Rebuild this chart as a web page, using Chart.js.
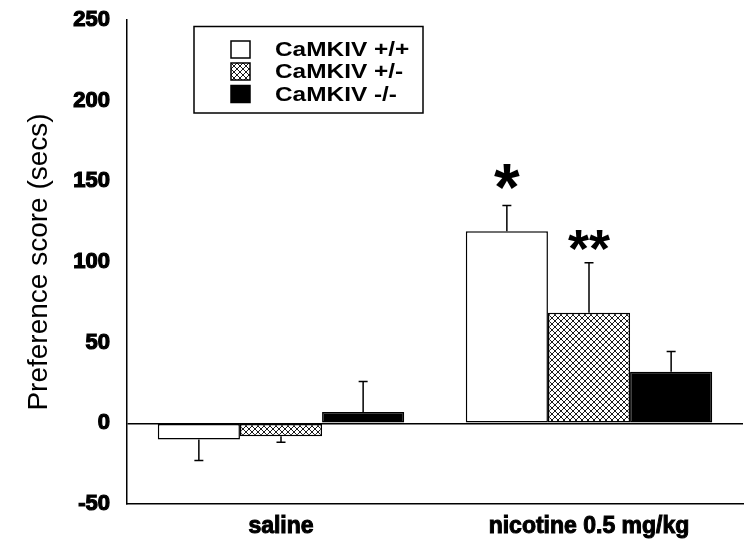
<!DOCTYPE html>
<html>
<head>
<meta charset="utf-8">
<script src="https://cdn.jsdelivr.net/npm/chart.js@4.4.1/dist/chart.umd.min.js"></script>
<style>
  html, body { margin: 0; padding: 0; background: #fff; }
  #wrap { width: 752px; height: 545px; }
</style>
</head>
<body>
<div id="wrap"><canvas id="prefChart" width="752" height="545"></canvas></div>
<script>
// data
const categories = ['saline', 'nicotine 0.5 mg/kg'];
const seriesNames = ['CaMKIV +/+', 'CaMKIV +/-', 'CaMKIV -/-'];
const wtMean  = [-10, 119];
const wtSem   = [13, 16];
const hetMean = [-8, 68.5];
const hetSem  = [3.7, 31];
const koMean  = [7, 32];
const koSem   = [19, 12.5];
const wtSig   = ['', '*'];
const hetSig  = ['', '**'];
const koSig   = ['', ''];
const yTicks  = [-50, 0, 50, 100, 150, 200, 250];

const FONT = '"Liberation Sans", Arial, sans-serif';

// crosshatch fill for the heterozygotes
function hatch() {
    const c = document.createElement('canvas');
    c.width = 6; c.height = 6;
    const g = c.getContext('2d');
    g.fillStyle = '#fff';
    g.fillRect(0, 0, 6, 6);
    g.strokeStyle = '#000';
    g.lineWidth = 0.9;
    g.beginPath();
    g.moveTo(0, 0); g.lineTo(6, 6);
    g.moveTo(6, 0); g.lineTo(0, 6);
    g.stroke();
    return g.createPattern(c, 'repeat');
}

const sems = [wtSem, hetSem, koSem];
const sigs = [wtSig, hetSig, koSig];

// error bars, stars and the boxed legend
const extras = {
    id: 'extras',
    afterDatasetsDraw(chart) {
        const ctx = chart.ctx;
        const y = chart.scales.y;
        ctx.save();
        chart.data.datasets.forEach((ds, i) => {
            const meta = chart.getDatasetMeta(i);
            meta.data.forEach((bar, j) => {
                const v = ds.data[j];
                const end = v >= 0 ? v + sems[i][j] : v - sems[i][j];
                const yEnd = y.getPixelForValue(end);
                ctx.strokeStyle = '#000';
                ctx.lineWidth = 1.5;
                ctx.beginPath();
                ctx.moveTo(bar.x, bar.y);
                ctx.lineTo(bar.x, yEnd);
                ctx.moveTo(bar.x - 4.5, yEnd);
                ctx.lineTo(bar.x + 4.5, yEnd);
                ctx.stroke();

                const s = sigs[i][j];
                if (s) {
                    const size = s.length === 1 ? 66 : 54;
                    ctx.font = 'bold ' + size + 'px ' + FONT;
                    ctx.fillStyle = '#000';
                    ctx.textAlign = 'center';
                    ctx.textBaseline = 'alphabetic';
                    const m = ctx.measureText(s);
                    // bottom of the glyph sits a little above the cap
                    const gap = s.length === 1 ? 17 : 12;
                    ctx.fillText(s, bar.x, yEnd - gap - m.actualBoundingBoxDescent);
                }
            });
        });

        // legend box
        ctx.lineWidth = 1.5;
        ctx.strokeStyle = '#000';
        ctx.strokeRect(194, 26.5, 229, 86.5);
        const rows = [49.5, 71.5, 94];
        ctx.font = 'bold 20px ' + FONT;
        ctx.textAlign = 'left';
        ctx.textBaseline = 'middle';
        chart.data.datasets.forEach((ds, i) => {
            ctx.fillStyle = ds.backgroundColor;
            ctx.fillRect(231, rows[i] - 8.5, 19, 17);
            ctx.lineWidth = 1.5;
            ctx.strokeRect(231, rows[i] - 8.5, 19, 17);
            ctx.save();
            ctx.translate(275, rows[i] + 1);
            ctx.scale(1.22, 1);
            ctx.fillStyle = '#000';
            ctx.fillText(ds.label, 0, 0);
            ctx.restore();
        });
        ctx.restore();
    }
};

const ctx = document.getElementById('prefChart').getContext('2d');
const chart = new Chart(ctx, {
    type: 'bar',
    data: {
        labels: categories,
        datasets: [
            { label: seriesNames[0], data: wtMean,  backgroundColor: '#fff' },
            { label: seriesNames[1], data: hetMean, backgroundColor: hatch() },
            { label: seriesNames[2], data: koMean,  backgroundColor: '#000' }
        ]
    },
    options: {
        responsive: false,
        animation: false,
        layout: { padding: { left: 0, top: 20, right: 9, bottom: 0 } },
        datasets: {
            bar: {
                borderColor: '#000',
                borderWidth: 1.5,
                borderSkipped: false,
                categoryPercentage: 0.8,
                barPercentage: 1.0
            }
        },
        plugins: {
            legend: { display: false },
            tooltip: { enabled: false }
        },
        scales: {
            x: {
                grid: { display: false },
                border: { display: true, color: '#000', width: 1.5 },
                ticks: {
                    color: '#000',
                    padding: 1,
                    font: { family: FONT, size: 23, weight: 'bold' },
                    textStrokeColor: '#000',
                    textStrokeWidth: 1
                },
                afterFit(scale) {
                    scale.height = 41;
                    scale.paddingLeft = 0;
                    scale.paddingRight = 0;
                }
            },
            y: {
                min: -50,
                max: 250,
                afterBuildTicks(scale) { scale.ticks = yTicks.map(v => ({ value: v })); },
                grid: {
                    drawTicks: false,
                    color: c => (c.tick && c.tick.value === 0) ? '#000' : 'rgba(0,0,0,0)',
                    lineWidth: 1.5
                },
                border: { display: true, color: '#000', width: 1.5 },
                ticks: {
                    color: '#000',
                    padding: 17,
                    font: { family: FONT, size: 22, weight: 'bold' },
                    textStrokeColor: '#000',
                    textStrokeWidth: 1.2
                },
                title: {
                    display: true,
                    text: 'Preference score (secs)',
                    color: '#000',
                    font: { family: FONT, size: 28 },
                    padding: { top: 22, bottom: 0 }
                },
                afterFit(scale) {
                    scale.width = 127;
                    scale.paddingTop = 0;
                    scale.paddingBottom = 0;
                }
            }
        }
    },
    plugins: [extras]
});
</script>
</body>
</html>
